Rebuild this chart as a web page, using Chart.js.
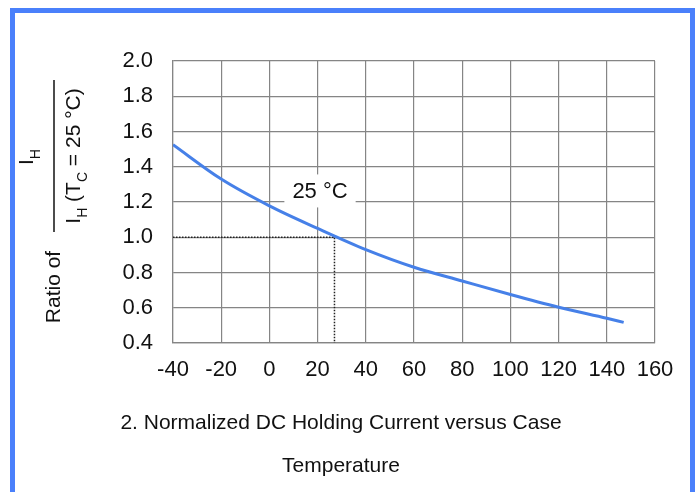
<!DOCTYPE html>
<html>
<head>
<meta charset="utf-8">
<script src="https://cdn.jsdelivr.net/npm/chart.js@4"></script>
<style>
  html, body { margin: 0; padding: 0; background: #fff; }
  #wrap { position: relative; width: 698px; height: 492px; overflow: hidden; font-family: "Liberation Sans", Arial, sans-serif; }
  #frame { position: absolute; left: 10px; top: 8px; width: 685px; height: 520px; border: 5px solid #4a80fb; border-bottom: none; box-sizing: border-box; }
  #chartBox { position: absolute; left: 0; top: 0; width: 698px; height: 492px; }
  .cap { position: absolute; left: 0; width: 682px; text-align: center; font-size: 21px; color: #111; }
</style>
</head>
<body>
<div id="wrap">
  <div id="frame"></div>
  <div id="chartBox"><canvas id="myChart"></canvas></div>
  <div class="cap" style="top:410px">2. Normalized DC Holding Current versus Case</div>
  <div class="cap" style="top:453px">Temperature</div>
</div>
<script>
// temperature (°C) and normalized holding current ratio
var tempC = [-40, -20, 0, 20, 40, 60, 80, 100, 120, 140, 147];
var ratio = [1.525, 1.33, 1.178, 1.05, 0.93, 0.83, 0.752, 0.675, 0.603, 0.54, 0.517];

// dotted reference lines through the 25 °C point
var refX = [-40, 27, 27];
var refY = [1.0, 1.0, 0.4];

var xTicks = [-40, -20, 0, 20, 40, 60, 80, 100, 120, 140, 160];
var yTicks = [0.4, 0.6, 0.8, 1.0, 1.2, 1.4, 1.6, 1.8, 2.0];

var refLabel = '25 \u00B0C';
var refLabelAt = {x: 21, y: 1.26};

var gridColor = '#858585';

var overlay = {
  id: 'overlay',
  afterDatasetsDraw: function(chart) {
    var c = chart.ctx;
    var xs = chart.scales.x, ys = chart.scales.y;
    // "25 °C" label with white box over grid
    c.save();
    c.font = '22px "Liberation Sans", Arial, sans-serif';
    var lx = xs.getPixelForValue(refLabelAt.x), ly = ys.getPixelForValue(refLabelAt.y);
    var w = c.measureText(refLabel).width;
    c.fillStyle = '#fff';
    c.fillRect(lx - w / 2 - 8, ly - 17, w + 16, 33);
    c.fillStyle = '#111';
    c.textAlign = 'center';
    c.textBaseline = 'middle';
    c.fillText(refLabel, lx, ly + 1);
    c.restore();
  },
  afterDraw: function(chart) {
    var c = chart.ctx;
    c.save();
    c.fillStyle = '#111';
    c.textBaseline = 'alphabetic';
    var big = '21px "Liberation Sans", Arial, sans-serif';
    var small = '14px "Liberation Sans", Arial, sans-serif';

    // "Ratio of"
    c.save();
    c.translate(60, 287);
    c.rotate(-Math.PI / 2);
    c.font = big;
    c.textAlign = 'center';
    c.fillText('Ratio of', 0, 0);
    c.restore();

    function runs(parts, baseX, cy) {
      var total = 0;
      parts.forEach(function(p) { c.font = p.sub ? small : big; total += c.measureText(p.t).width; });
      c.save();
      c.translate(baseX, cy);
      c.rotate(-Math.PI / 2);
      c.textAlign = 'left';
      var x = -total / 2;
      parts.forEach(function(p) {
        c.font = p.sub ? small : big;
        c.fillText(p.t, x, p.sub ? 7 : 0);
        x += c.measureText(p.t).width;
      });
      c.restore();
    }
    // numerator
    runs([{t: 'I'}, {t: 'H', sub: true}], 33, 157);
    // fraction bar
    c.strokeStyle = '#111';
    c.lineWidth = 1.5;
    c.beginPath();
    c.moveTo(54, 80);
    c.lineTo(54, 232);
    c.stroke();
    // denominator
    runs([{t: 'I'}, {t: 'H', sub: true}, {t: ' (T'}, {t: 'C', sub: true}, {t: ' = 25 \u00B0C)'}], 80, 156);
    c.restore();
  }
};

var tickFont = { family: '"Liberation Sans", Arial, sans-serif', size: 22 };

var ctx = document.getElementById('myChart').getContext('2d');
var myChart = new Chart(ctx, {
  type: 'scatter',
  data: {
    datasets: [{
      data: tempC.map(function(t, i) { return {x: t, y: ratio[i]}; }),
      showLine: true,
      borderColor: '#4680e8',
      borderWidth: 3,
      pointRadius: 0,
      cubicInterpolationMode: 'monotone'
    }, {
      data: refX.map(function(t, i) { return {x: t, y: refY[i]}; }),
      showLine: true,
      borderColor: '#222',
      borderWidth: 1.5,
      borderDash: [1.5, 1.5],
      pointRadius: 0,
      tension: 0
    }]
  },
  plugins: [overlay],
  options: {
    responsive: true,
    maintainAspectRatio: false,
    animation: false,
    layout: { padding: { left: 0, top: 61, right: 43, bottom: 0 } },
    plugins: { legend: { display: false }, tooltip: { enabled: false } },
    scales: {
      x: {
        type: 'linear',
        min: -40, max: 160,
        afterBuildTicks: function(s) { s.ticks = xTicks.map(function(v) { return {value: v}; }); },
        afterFit: function(s) { s.height = 149; },
        grid: { color: gridColor, lineWidth: 1.2, drawTicks: false },
        border: { color: gridColor, width: 1.2 },
        ticks: { color: '#111', padding: 14, maxRotation: 0, font: tickFont }
      },
      y: {
        type: 'linear',
        min: 0.4, max: 2.0,
        afterBuildTicks: function(s) { s.ticks = yTicks.map(function(v) { return {value: v}; }); },
        afterFit: function(s) { s.width = 173; },
        grid: { color: gridColor, lineWidth: 1.2, drawTicks: false },
        border: { color: gridColor, width: 1.2 },
        ticks: {
          color: '#111', padding: 20, font: tickFont,
          callback: function(v) { return v.toFixed(1); }
        }
      }
    }
  }
});
</script>
</body>
</html>
